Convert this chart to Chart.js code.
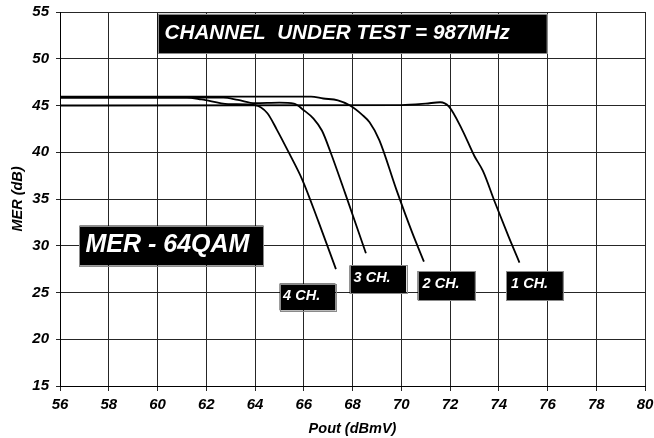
<!DOCTYPE html>
<html><head><meta charset="utf-8">
<script src="https://cdn.jsdelivr.net/npm/chart.js@4/dist/chart.umd.min.js"></script>
<style>html,body{margin:0;padding:0;background:#fff}#wrap{width:654px;height:438px}</style>
</head><body><div id="wrap"><canvas id="c" width="654" height="438"></canvas></div>
<script>
// ---- data ----
const seriesNames = ['1 CH.', '2 CH.', '3 CH.', '4 CH.'];
const ch1X = [56, 70.0, 71.0, 71.6, 71.95, 72.5, 73.0, 73.35, 73.85, 74.4, 74.85];
const ch1Y = [45.0, 45.05, 45.2, 45.35, 44.9, 42.4, 39.6, 38.0, 34.6, 31.0, 28.2];
const ch2X = [56, 66.3, 66.8, 67.4, 67.9, 68.4, 68.7, 69.1, 69.8, 70.45, 70.93];
const ch2Y = [45.95, 45.95, 45.75, 45.55, 45.0, 44.0, 43.2, 41.3, 36.0, 31.4, 28.3];
const ch3X = [56, 62.7, 63.3, 64.0, 65.0, 65.6, 66.0, 66.4, 66.75, 67.1, 67.7, 68.55];
const ch3Y = [45.85, 45.85, 45.6, 45.25, 45.3, 45.2, 44.5, 43.6, 42.3, 40.0, 35.6, 29.2];
const ch4X = [56, 61.2, 61.8, 62.9, 64.0, 64.5, 64.9, 65.4, 65.95, 66.6, 67.32];
const ch4Y = [45.85, 45.85, 45.65, 45.15, 45.05, 44.2, 42.4, 39.9, 37.0, 32.6, 27.5];
const xMin = 56, xMax = 80, xStep = 2;
const yMin = 15, yMax = 55, yStep = 5;
const xTitle = 'Pout (dBmV)';
const yTitle = 'MER (dB)';
const headerText = 'CHANNEL  UNDER TEST = 987MHz';
const panelText = 'MER - 64QAM';

// ---- annotation boxes (in data units) ----
const FAM = '"Liberation Sans", Arial, sans-serif';
const boxes = [
  {x0:60.0, x1:75.97, y0:50.6, y1:54.8, text:headerText, size:20.7, pad:7, dy:0},
  {x0:56.8, x1:64.35, y0:27.9, y1:32.16, text:panelText, size:25, pad:6, dy:0},
  {x0:65.01, x1:67.3, y0:23.1, y1:25.96, text:seriesNames[3], size:14.5, pad:3.5, dy:-1},
  {x0:67.88, x1:70.2, y0:24.89, y1:27.9, text:seriesNames[2], size:14.5, pad:4, dy:-1.5},
  {x0:70.67, x1:73.02, y0:24.18, y1:27.3, text:seriesNames[1], size:14.5, pad:5, dy:-1.5},
  {x0:74.3, x1:76.63, y0:24.18, y1:27.3, text:seriesNames[0], size:14.5, pad:5, dy:-1.5}
];

const boxPlugin = {
  id: 'boxes',
  afterDatasetsDraw(chart) {
    const {ctx, scales:{x, y}} = chart;
    ctx.save();
    boxes.forEach(b => {
      const l = x.getPixelForValue(b.x0), r = x.getPixelForValue(b.x1);
      const t = y.getPixelForValue(b.y1), bt = y.getPixelForValue(b.y0);
      ctx.fillStyle = '#000';
      ctx.fillRect(l, t, r - l, bt - t);
      ctx.strokeStyle = '#8a8a8a';
      ctx.lineWidth = 1;
      ctx.strokeRect(Math.round(l) + 0.5, Math.round(t) + 0.5, Math.round(r - l), Math.round(bt - t));
      ctx.fillStyle = '#fff';
      ctx.font = 'italic bold ' + b.size + 'px ' + FAM;
      ctx.textBaseline = 'middle';
      ctx.textAlign = 'left';
      ctx.fillText(b.text, l + b.pad, (t + bt) / 2 + b.dy);
    });
    ctx.restore();
  }
};

function pts(xs, ys) { return xs.map((v, i) => ({x: v, y: ys[i]})); }
function ds(label, xs, ys) {
  return {label, data: pts(xs, ys), borderColor: '#000', borderWidth: 1.8,
    pointRadius: 0, fill: false, cubicInterpolationMode: 'monotone'};
}

const tickFont = {family: FAM, size: 15, weight: 'bold', style: 'italic'};
const titleFont = {family: FAM, size: 14.5, weight: 'bold', style: 'italic'};

new Chart(document.getElementById('c'), {
  type: 'line',
  data: {datasets: [
    ds(seriesNames[0], ch1X, ch1Y),
    ds(seriesNames[1], ch2X, ch2Y),
    ds(seriesNames[2], ch3X, ch3Y),
    ds(seriesNames[3], ch4X, ch4Y)
  ]},
  options: {
    responsive: false, animation: false, devicePixelRatio: 1,
    layout: {padding: {top: 12, right: 9, left: 0, bottom: 0}},
    plugins: {legend: {display: false}, tooltip: {enabled: false}},
    scales: {
      x: {type: 'linear', min: xMin, max: xMax,
        ticks: {stepSize: xStep, font: tickFont, color: '#000', padding: 5, maxRotation: 0},
        grid: {color: '#262626', lineWidth: 1, tickLength: 5},
        border: {color: '#000', width: 1},
        title: {display: true, text: xTitle, font: titleFont, color: '#000', padding: {top: 0, bottom: 0}},
        afterFit: s => { s.height = 52; s.paddingLeft = 0; s.paddingRight = 0; }
      },
      y: {type: 'linear', min: yMin, max: yMax,
        ticks: {stepSize: yStep, font: tickFont, color: '#000', padding: 7},
        grid: {color: '#262626', lineWidth: 1, tickLength: 4},
        border: {color: '#000', width: 1},
        title: {display: true, text: yTitle, font: titleFont, color: '#000', padding: {top: 9, bottom: 0}},
        afterFit: s => { s.width = 60; s.paddingTop = 0; s.paddingBottom = 0; }
      }
    }
  },
  plugins: [boxPlugin]
});
</script></body></html>
